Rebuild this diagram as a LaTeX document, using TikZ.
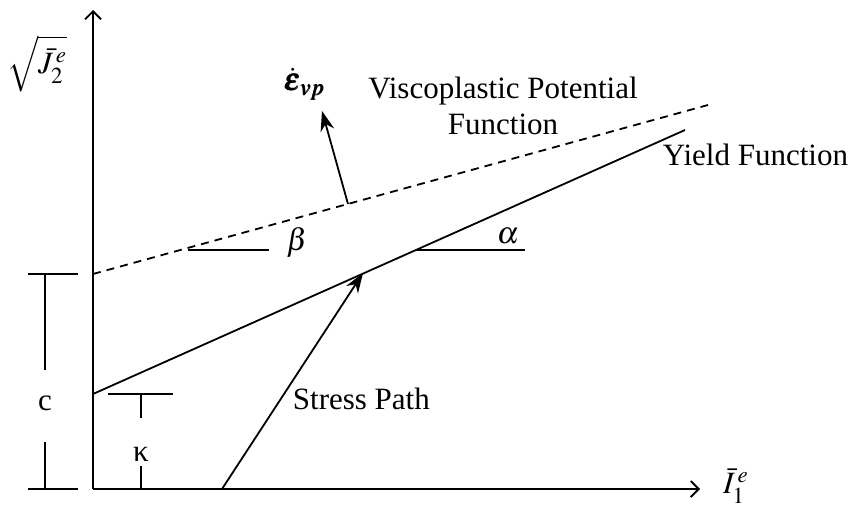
\documentclass[tikz,border=0pt]{standalone}
\usepackage{amsmath}
\usepackage{mathptmx}
\usepackage[no-math]{fontspec}
\setmainfont{Liberation Serif}
\usetikzlibrary{arrows.meta}
\begin{document}
\begin{tikzpicture}[x=0.5pt,y=-0.5pt,line width=0.9pt,>={Stealth[length=10pt,width=7pt]},font=\fontsize{15.5}{18}\selectfont,
every node/.style={inner sep=1pt},axis/.style={-{Straight Barb[length=4pt,width=8pt]}},slope/.style={dash pattern=on 4pt off 3pt}]
\useasboundingbox (0,0) rectangle (849,508);
% axes
\coordinate(o) at (93,489);\coordinate(ytop) at (93,10);\coordinate(xend) at (700,489);
\draw[axis](o)--(ytop);\draw[axis](o)--(xend);
\node(jy) at (37,64){$\sqrt{\bar{J}_2^{\,e}}$};
\node(ix) at (736,486){$\bar{I}_1^{\,e}$};
% yield and potential lines
\coordinate(ya) at (93,394);\coordinate(yb) at (685,130);
\coordinate(va) at (93,274);\coordinate(vb) at (708,105);
\draw(ya)--(yb);\draw[slope](va)--(vb);
\node[anchor=base west](yf) at (660,165){Yield Function};
\node[align=center](vpf) at (503,106){Viscoplastic Potential\\Function};
% angles
\coordinate(al0) at (416,250);\coordinate(al1) at (525,250);
\coordinate(be0) at (188,250);\coordinate(be1) at (269,250);
\draw(al0)--(al1);\draw(be0)--(be1);
\node(al) at (508,236){$\alpha$};
\node(be) at (297,242){$\beta$};
% stress path and flow direction
\coordinate(sp0) at (222,489);\coordinate(sp1) at (363,273);
\draw[->](sp0)--(sp1);
\node[anchor=base west](sp) at (290,409){Stress Path};
\coordinate(ep0) at (348,204);\coordinate(ep1) at (322,111);
\draw[->](ep0)--(ep1);
\node(ep) at (305,84){$\dot{\pmb{\varepsilon}}_{\pmb{vp}}$};
% c and kappa
\coordinate(ct0) at (28,274);\coordinate(ct1) at (78,274);\coordinate(cb0) at (28,489);\coordinate(cb1) at (78,489);
\coordinate(cu) at (45,274);\coordinate(cu1) at (45,370);\coordinate(cd) at (45,442);\coordinate(cd1) at (45,489);
\draw(ct0)--(ct1);\draw(cb0)--(cb1);\draw(cu)--(cu1);\draw(cd)--(cd1);
\node[anchor=base](c) at (45,410){c};
\coordinate(kt0) at (108,394);\coordinate(kt1) at (173,394);
\coordinate(ku) at (141,394);\coordinate(ku1) at (141,418);\coordinate(kd) at (141,466);\coordinate(kd1) at (141,489);
\draw(kt0)--(kt1);\draw(ku)--(ku1);\draw(kd)--(kd1);
\node[anchor=base](k) at (141,461){κ};
\end{tikzpicture}
\end{document}
